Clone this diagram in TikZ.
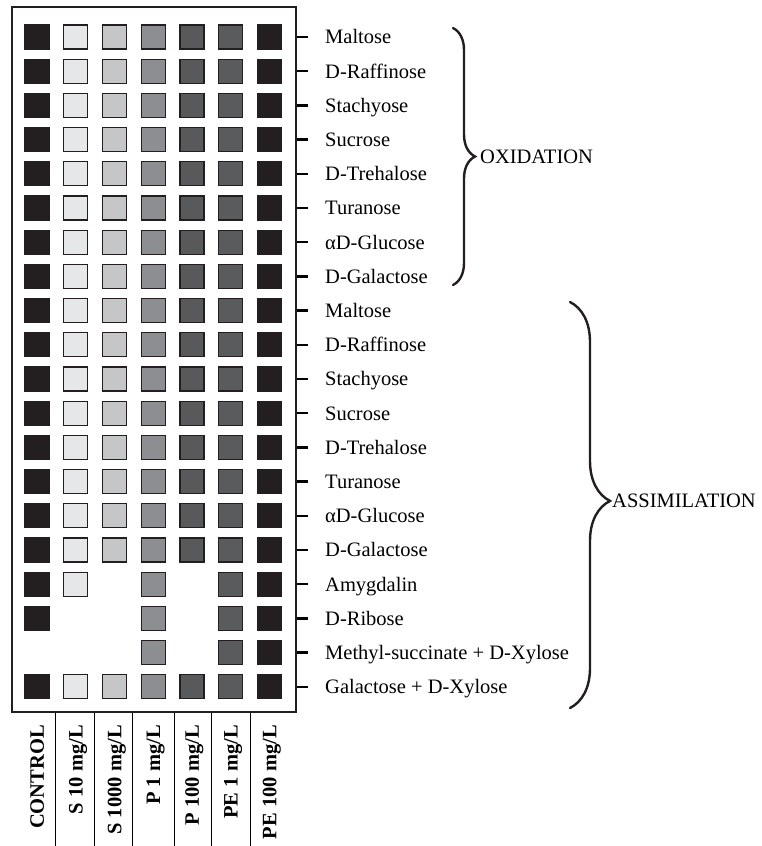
\documentclass[tikz,border=0pt]{standalone}
\usepackage{fontspec}
\setmainfont{Liberation Serif}
\usetikzlibrary{positioning,decorations.pathreplacing}
\definecolor{col1}{HTML}{231F20}
\definecolor{col2}{HTML}{E6E7E8}
\definecolor{col3}{HTML}{C5C6C8}
\definecolor{col4}{HTML}{8D8E91}
\definecolor{col5}{HTML}{58595B}
\definecolor{col6}{HTML}{5A5B5D}
\definecolor{col7}{HTML}{231F20}
\tikzset{
  cell/.style={draw=col1, line width=1.2pt, minimum size=24pt, inner sep=0pt},
  sugar/.style={inner sep=0pt, anchor=west, text height=13.6pt, text depth=0pt, font=\fontsize{20.5}{24}\selectfont},
  treat/.style={inner sep=0pt, rotate=90, anchor=east, text height=13.6pt, text depth=0pt, font=\bfseries\fontsize{20.5}{24}\selectfont},
  tickmark/.style={line width=2.4pt},
  curly/.style={line width=2.4pt, draw=col1, decorate, line cap=round},
}
\begin{document}
\begin{tikzpicture}[x=1pt,y=-1pt]
\useasboundingbox (0,0) rectangle (762,846);
\node[draw=col1, line width=2.2pt, minimum width=284pt, minimum height=705pt, inner sep=0pt] (panel) at (154,359.5) {};

\foreach \name/\cols [count=\r from 0] in {
  Maltose/{1,...,7}, D-Raffinose/{1,...,7}, Stachyose/{1,...,7}, Sucrose/{1,...,7},
  D-Trehalose/{1,...,7}, Turanose/{1,...,7}, αD-Glucose/{1,...,7}, D-Galactose/{1,...,7},
  Maltose/{1,...,7}, D-Raffinose/{1,...,7}, Stachyose/{1,...,7}, Sucrose/{1,...,7},
  D-Trehalose/{1,...,7}, Turanose/{1,...,7}, αD-Glucose/{1,...,7}, D-Galactose/{1,...,7},
  Amygdalin/{1,2,4,6,7}, D-Ribose/{1,4,6,7}, Methyl-succinate + D-Xylose/{4,6,7},
  Galactose + D-Xylose/{1,...,7}} {
  \coordinate (end\r) at (308,{37+34.2*\r});
  \draw[tickmark] (panel.east |- end\r) -- (end\r);
  \node[sugar, right=17pt of end\r] (sugar\r) {\name};
  \foreach \c in \cols
    \node[cell, fill=col\c] (cell\r-\c) at ({37+38.75*(\c-1)},{37+34.2*\r}) {};
}

\foreach \lab [count=\c] in {CONTROL,{S 10 mg/L},{S 1000 mg/L},{P 1 mg/L},{P 100 mg/L},{PE 1 mg/L},{PE 100 mg/L}}
  \node[treat] (treat\c) at ({37+38.75*(\c-1)},725) {\lab};
\foreach \x in {55,94,132,174,211,250}
  \draw[line width=0.8pt] (\x,0 |- panel.south) -- (\x,846);

\draw[curly, decoration={brace, amplitude=22pt}] (453,28) -- (453,285);
\coordinate (oxtip) at (475,156.5);
\node[sugar, right=5pt of oxtip] (oxid) {OXIDATION};
\draw[curly, decoration={brace, amplitude=40pt, aspect=0.49}] (570,302) -- (570,708);
\coordinate (astip) at (610,501);
\node[sugar, right=2pt of astip] (assim) {ASSIMILATION};
\end{tikzpicture}
\end{document}
